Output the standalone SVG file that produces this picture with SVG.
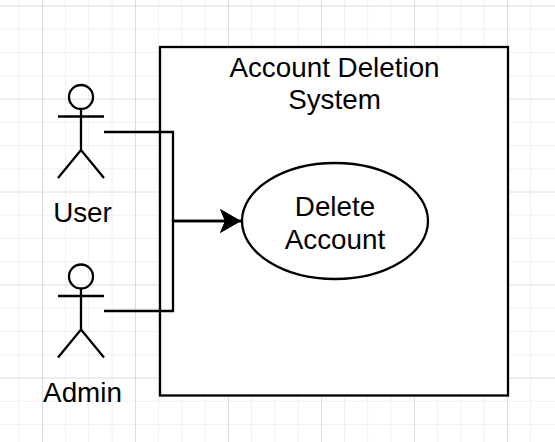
<svg xmlns="http://www.w3.org/2000/svg" width="555" height="442" viewBox="0 0 555 442">
<style>
.minor{stroke:#f0f0f0;stroke-width:1;fill:none}
.major{stroke:#dcdcdc;stroke-width:1;fill:none}
.s{stroke:#000;stroke-width:2.3;fill:none}
.f{stroke:#000;stroke-width:2.3;fill:#fff}
text{font-family:"Liberation Sans",Arial,sans-serif;font-size:27.8px;fill:#000;text-anchor:middle}
</style>
<defs><marker id="arrow" markerUnits="userSpaceOnUse" markerWidth="22" markerHeight="24" refX="21" refY="12" orient="auto"><path d="M0 0L21 12L0 24L5 12Z" fill="#000"/></marker></defs>
<rect width="555" height="442" fill="#fff"/>
<g id="grid">
<path class="minor" d="M19 0V442M65.5 0V442M88.7 0V442M112 0V442M158.5 0V442M181.7 0V442M205 0V442M251.5 0V442M274.7 0V442M298 0V442M344.5 0V442M367.7 0V442M391 0V442M437.5 0V442M460.7 0V442M484 0V442M530.5 0V442M0 29.3H555M0 52.5H555M0 75.8H555M0 122.3H555M0 145.5H555M0 168.8H555M0 215.3H555M0 238.5H555M0 261.8H555M0 308.3H555M0 331.5H555M0 354.8H555M0 401.3H555M0 424.5H555"/>
<path class="major" d="M42.5 0V442M135.5 0V442M228.5 0V442M321.5 0V442M414.5 0V442M507.5 0V442M0 6H555M0 99H555M0 192H555M0 285H555M0 378H555"/>
</g>
<g id="system"><rect class="f" x="160" y="47" width="348" height="348.500"/>
<text x="334.500" y="77">Account Deletion</text><text x="334.500" y="109">System</text></g>
<g id="delete-account"><ellipse class="f" cx="335" cy="221" rx="93" ry="58"/>
<text x="335" y="216">Delete</text><text x="335" y="249">Account</text></g>
<g id="user"><circle class="s" cx="81" cy="97" r="12"/><path class="s" d="M81 109V150M58 116.500H104M58 178L81 150L104 178"/><text x="82.500" y="222">User</text></g>
<g id="admin"><circle class="s" cx="81" cy="276.500" r="12"/><path class="s" d="M81 288.500V329.500M58 296H104M58 357.500L81 329.500L104 357.500"/><text x="82.500" y="402">Admin</text></g>
<g id="connectors">
<path class="s" d="M104 132H173V221H241" marker-end="url(#arrow)"/>
<path class="s" d="M104 311H173V221H241" marker-end="url(#arrow)"/>
</g>
</svg>
